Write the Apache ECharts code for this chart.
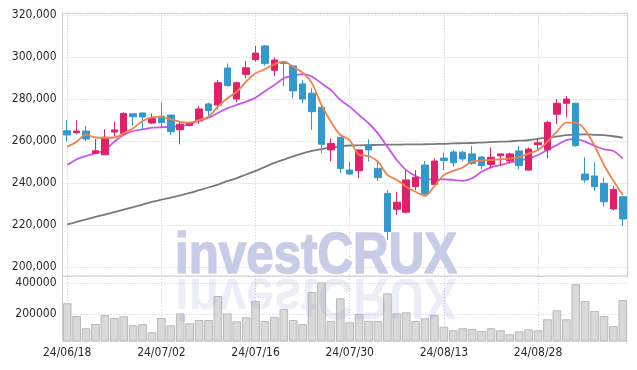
<!DOCTYPE html>
<html><head><meta charset="utf-8">
<script src="https://cdn.jsdelivr.net/npm/echarts@6/dist/echarts.min.js"></script>
<style>html,body{margin:0;padding:0;background:#fff}#c{width:637px;height:370px}</style>
</head><body><div id="c"></div>
<script>
const dates = ['24/06/18','24/06/19','24/06/20','24/06/21','24/06/24','24/06/25','24/06/26','24/06/27','24/06/28',
'24/07/01','24/07/02','24/07/03','24/07/04','24/07/05','24/07/08','24/07/09','24/07/10','24/07/11','24/07/12','24/07/15','24/07/16','24/07/17','24/07/18','24/07/19','24/07/22','24/07/23','24/07/24','24/07/25','24/07/26','24/07/29','24/07/30','24/07/31',
'24/08/01','24/08/02','24/08/05','24/08/06','24/08/07','24/08/08','24/08/09','24/08/12','24/08/13','24/08/14','24/08/16','24/08/19','24/08/20','24/08/21','24/08/22','24/08/23','24/08/26','24/08/27','24/08/28','24/08/29','24/08/30',
'24/09/02','24/09/03','24/09/04','24/09/05','24/09/06','24/09/09','24/09/10'];

const opens  = [265000,264100,264900,254300,253600,264400,263800,273100,273500,268700,
272000,272500,265500,267600,269800,277800,277300,294900,280100,291900,
298900,305400,293800,297500,295900,287300,282900,276200,255900,261900,
246300,246000,258200,247100,235200,227600,226200,238400,248700,239500,
252000,254900,254800,254000,252500,249000,253100,250600,255400,246300,
258400,255900,272900,278100,278100,244400,243500,240000,227800,233600];
const closes = [263000,264900,261100,255500,261900,265400,273300,271700,271600,270800,
268900,264600,268100,268700,275400,274600,287900,286500,287900,295000,
302000,297000,298700,297000,284000,280100,274100,258600,259000,247100,
244400,255900,255900,242700,217000,231000,241600,242900,234900,250600,
250800,249800,251600,249500,248400,252400,254000,254000,248400,256300,
259300,269000,278100,280100,257900,241600,238400,231200,237100,223000];
const lows   = [259800,263500,260100,254000,253600,262500,262900,267400,265400,268200,
266500,263000,258600,267000,268200,272200,275200,286000,278700,290000,
297900,295900,291100,286300,280500,278100,265400,254300,250600,245000,
244000,242400,250300,241200,213000,224900,225700,236800,234500,239300,
246300,247900,250300,248700,246700,247100,248400,249500,246700,246000,
255800,251900,268200,271400,257400,240300,236500,228900,227000,219800];
const highs  = [270100,270100,267300,261000,265700,269300,273800,273300,273800,273300,
278400,272600,269300,269200,276700,278400,289200,297100,288400,298400,
305400,305900,300000,297900,296000,289200,285200,277300,261400,262000,
250300,256000,261000,251100,236800,236000,246300,246300,250600,251900,
254600,255900,255500,257800,253100,257100,254000,254600,257800,257100,
261400,269800,280000,281600,278400,252400,250000,242700,238700,233700];

const ma5  = [257400,259800,263200,261800,261700,261800,263800,266200,269700,271400,
271600,270500,269300,268900,270100,271700,276500,280500,283600,288400,
292400,294300,296700,297900,295500,292700,287600,277300,269300,263000,
260600,253500,253000,250300,244000,241600,238400,236000,234000,238700,
244000,245900,247500,250400,250800,251100,251400,251700,252500,254100,
255900,259800,264600,268900,268900,265400,257900,248700,241200,234400];
const ma20 = [248700,251400,253000,254300,255900,259800,263000,264900,265700,266500,
266700,266900,267100,268100,269800,271200,273500,275700,277300,278900,
280800,283800,286800,290000,291200,292000,290800,287600,284400,279700,
276500,272500,268600,263800,257400,251100,246300,243500,242000,241900,
241900,241600,241200,242400,245500,247600,248700,249800,250800,251900,
253500,255900,258200,260600,261000,259800,257900,256200,255400,251900];
const ma60 = [220400,221600,222800,224000,225100,226300,227500,228700,229900,231100,
232200,233200,234300,235400,236700,238000,239400,241000,242500,244200,
245900,247800,249700,251300,252800,254200,255400,256300,257000,257600,
258000,258100,258200,258300,258400,258400,258500,258500,258600,258700,
258800,259000,259100,259200,259400,259600,259800,260000,260300,260500,
261200,261700,262300,262900,263200,263300,263100,262900,262400,261700];

const volumes = [271000,189000,110000,137000,195000,176000,187000,129000,137000,84000,
176000,129000,206000,142000,163000,163000,318000,206000,155000,181000,
286000,157000,183000,234000,163000,137000,344000,406000,157000,303000,
148000,202000,157000,157000,335000,206000,213000,157000,174000,195000,
120000,97000,110000,105000,92000,110000,97000,71000,90000,103000,
97000,168000,226000,168000,394000,286000,221000,189000,125000,292000];

const FONT = "'DejaVu Sans Condensed','Liberation Sans Narrow','Roboto',sans-serif";
const UP = '#e2206a', DOWN = '#3399cc';
const gridLine = {show:true, lineStyle:{color:'#c9c9d9', type:[1,2], width:1}};

const candles = dates.map((d,i)=>[opens[i], closes[i], lows[i], highs[i]]);

const chart = echarts.init(document.getElementById('c'), null, {renderer:'canvas'});
chart.setOption({
  animation:false,
  backgroundColor:'#fff',
  grid:[
    {left:62.5, right:9.5, top:13.3, bottom:94, show:true, borderColor:'#d0d0d0', borderWidth:1, backgroundColor:'transparent'},
    {left:62.5, right:9.5, top:276, bottom:29}
  ],
  xAxis:[
    {type:'category', data:dates, gridIndex:0, boundaryGap:true,
     axisLine:{show:false}, axisTick:{show:false}, axisLabel:{show:false},
     splitLine:Object.assign({interval:9, alignWithLabel:true}, gridLine)},
    {type:'category', data:dates, gridIndex:1, boundaryGap:true,
     axisLine:{show:false}, axisTick:{show:false},
     axisLabel:{interval:9, margin:6, color:'#2a2a2a', fontSize:12, fontFamily:FONT},
     splitLine:Object.assign({interval:9, alignWithLabel:true}, gridLine)}
  ],
  yAxis:[
    {type:'value', gridIndex:0, min:195860, max:320950, splitNumber:6, scale:true,
     axisLine:{show:true, lineStyle:{color:'#d0d0d0'}}, axisTick:{show:false},
     axisLabel:{margin:6, color:'#2a2a2a', fontSize:12, fontFamily:FONT,
       formatter:v=> (Math.round(v)%20000===0) ? Math.round(v).toLocaleString('en-US') : ''},
     splitLine:gridLine},
    {type:'value', gridIndex:1, min:27700, max:447100, splitNumber:2,
     axisLine:{show:true, lineStyle:{color:'#d0d0d0'}}, axisTick:{show:false},
     axisLabel:{margin:6, color:'#2a2a2a', fontSize:12, fontFamily:FONT,
       formatter:v=> (Math.round(v)%200000===0) ? String(Math.round(v)) : ''},
     splitLine:gridLine}
  ],
  series:[
    {type:'line', name:'MA60', data:ma60, xAxisIndex:0, yAxisIndex:0, showSymbol:false, smooth:0.3,
     lineStyle:{color:'#7a7a7a', width:1.8}, z:2},
    {type:'line', name:'MA20', data:ma20, xAxisIndex:0, yAxisIndex:0, showSymbol:false, smooth:0.3,
     lineStyle:{color:'#c955ea', width:1.8}, z:2},
    {type:'candlestick', data:candles, xAxisIndex:0, yAxisIndex:0, barWidth:7,
     itemStyle:{color:UP, color0:DOWN, borderColor:UP, borderColor0:DOWN, borderWidth:1}, z:3},
    {type:'line', name:'MA5', data:ma5, xAxisIndex:0, yAxisIndex:0, showSymbol:false, smooth:0.3,
     lineStyle:{color:'#ef8349', width:1.8}, z:4},
    {type:'bar', data:volumes, xAxisIndex:1, yAxisIndex:1, barWidth:'92%',
     itemStyle:{color:'#d9d9d9', borderColor:'#b9b9b9', borderWidth:1}}
  ],
  graphic:[
    {type:'text', x:175, y:256.8, scaleX:0.85, z:1, silent:true,
     style:{text:'investCRUX', fontFamily:"'Liberation Sans',Arial,sans-serif", fontWeight:'bold', fontSize:58,
       fill:'#c7cde6', stroke:'#c7cde6', lineWidth:1.6, align:'left', verticalAlign:'middle'}},
    {type:'text', x:175, y:295.2, scaleX:0.85, scaleY:-1, z:10, silent:true,
     style:{text:'investCRUX', fontFamily:"'Liberation Sans',Arial,sans-serif", fontWeight:'bold', fontSize:58,
       fill:'rgba(140,155,205,0.17)', align:'left', verticalAlign:'middle'}}
  ]
});
</script></body></html>
